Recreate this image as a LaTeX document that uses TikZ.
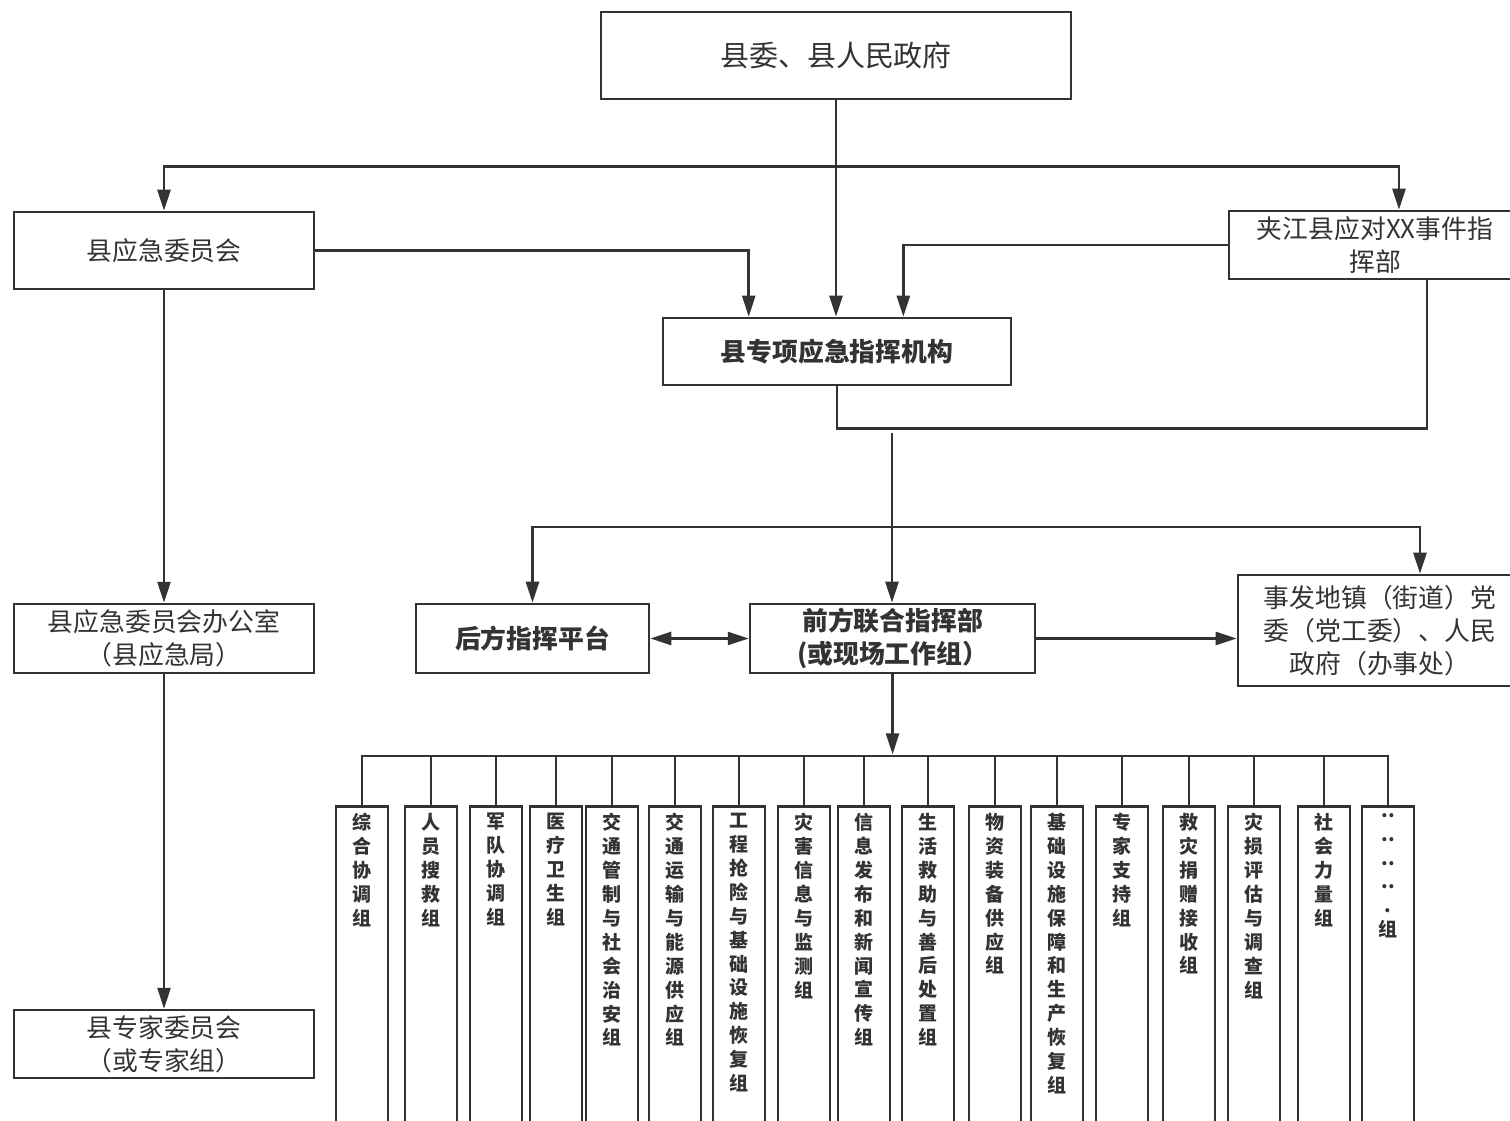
\documentclass[tikz,border=0pt]{standalone}
\usepackage{fontspec}
\setmainfont{Noto Sans CJK SC}
\usepackage{tikz}
\usetikzlibrary{positioning}
\usetikzlibrary {arrows.meta}

\definecolor{linec}{HTML}{333333}
\tikzset{
    box/.style={draw=linec, line width=1.5pt, fill=white, text=linec, align=center,
        inner sep=0pt, font=\fontsize{14.7}{18.7}\selectfont},
    bbox/.style={box, font=\bfseries\fontsize{14.7}{18.7}\selectfont},
    col/.style={draw=linec, line width=1.5pt, fill=white, minimum width=1.04cm,
        minimum height=6.8cm, inner sep=0pt, anchor=north},
    coltxt/.style={anchor=north, align=center, inner sep=0pt, text=linec,
        font=\bfseries\fontsize{10.8}{13.6}\selectfont},
    tip/.tip={Triangle[length=0.42cm,width=0.26cm]},
    ln/.style={draw=linec, line width=1.5pt},
    arr/.style={ln, -tip},
}

\begin{document}
\begin{tikzpicture}[x=0.02cm, y=-0.02cm]
    \clip (0,0) rectangle (1510,1121);
    \fill[white] (0,0) rectangle (1510,1121);
    %% 上层
    \node[box, minimum width=9.4cm, minimum height=1.74cm, font=\fontsize{16.5}{20}\selectfont] (a1) at (836,55.5) {县委、县人民政府};
    \node[box, minimum width=6cm, minimum height=1.54cm] (a2) at (164,250.5) {县应急委员会};
    \node[box, minimum width=5.84cm, minimum height=1.36cm] (a3) at (1375,245) {夹江县应对XX事件指\\挥部};
    \node[bbox, minimum width=6.96cm, minimum height=1.34cm] (a4) at (837,351.5) {县专项应急指挥机构};
    %% 左列
    \node[box, minimum width=6cm, minimum height=1.38cm, below=6.25cm of a2] (a5) {县应急委员会办公室\\（县应急局）};
    \node[box, minimum width=6cm, minimum height=1.36cm, below=6.69cm of a5] (a6) {县专家委员会\\（或专家组）};
    %% 中层
    \node[bbox, minimum width=4.66cm, minimum height=1.38cm] (a7) at (532.5,638.5) {后方指挥平台};
    \node[bbox, minimum width=5.7cm, minimum height=1.38cm, right=1.97cm of a7] (a8) {前方联合指挥部\\(或现场工作组）};
    \node[box, minimum width=5.68cm, minimum height=2.22cm] (a9) at (1380,630.5) {事发地镇（街道）党\\委（党工委）、人民\\政府（办事处）};
    \coordinate (c1) at (892,433);
    \coordinate (c2) at (892,527);
    %% 各工作组
    \foreach \k/\xx/\txt in {
        1/362/{综\\合\\协\\调\\组},
        2/431/{人\\员\\搜\\救\\组},
        3/496/{军\\队\\协\\调\\组},
        4/556/{医\\疗\\卫\\生\\组},
        5/612/{交\\通\\管\\制\\与\\社\\会\\治\\安\\组},
        6/675/{交\\通\\运\\输\\与\\能\\源\\供\\应\\组},
        7/739/{工\\程\\抢\\险\\与\\基\\础\\设\\施\\恢\\复\\组},
        8/804/{灾\\害\\信\\息\\与\\监\\测\\组},
        9/864/{信\\息\\发\\布\\和\\新\\闻\\宣\\传\\组},
        10/928/{生\\活\\救\\助\\与\\善\\后\\处\\置\\组},
        11/995/{物\\资\\装\\备\\供\\应\\组},
        12/1057/{基\\础\\设\\施\\保\\障\\和\\生\\产\\恢\\复\\组},
        13/1122/{专\\家\\支\\持\\组},
        14/1189/{救\\灾\\捐\\赠\\接\\收\\组},
        15/1254/{灾\\损\\评\\估\\与\\调\\查\\组},
        16/1324/{社\\会\\力\\量\\组},
        17/1388/{..\\..\\..\\..\\.\\组}}{
        \node[col] (g\k) at (\xx,805) {};
        \node[coltxt] (t\k) at ([yshift=-0.16cm]g\k.north) {\txt};
    }
    % 对各个框连线
    \draw[arr] (a1.south) -- (a1.south |- a4.north);
    \draw[arr] (a1.south) ++(0,66) -| (a2.north);
    \draw[arr] (a1.south) ++(0,66) -| ([xshift=0.48cm]a3.north);
    \draw[arr] (a2.east) -| ([xshift=1.74cm]a4.north west);
    \draw[arr] (a3.west) -| ([xshift=-2.18cm]a4.north east);
    \draw[ln] (a4.south) -- ++(0,42) -| ([xshift=1.04cm]a3.south);
    \draw[arr] (c1) -- (c1 |- a8.north);
    \draw[arr] (c2) -| (a7.north);
    \draw[arr] (c2) -| ([xshift=0.8cm]a9.north);
    \draw[ln, tip-tip] (a7) -- (a8);
    \draw[arr] (a8.east) -- (a8.east -| a9.west);
    \draw[arr] (a2) -- (a5);
    \draw[arr] (a5) -- (a6);
    \draw[arr] (a8.south) -- ++(0,80);
    \draw[ln] (g1.north) -- ++(0,-49) -| (g17.north);
    \foreach \k in {2,...,16}
        \draw[ln] (g\k.north) -- ++(0,-49);
\end{tikzpicture}
\end{document}
